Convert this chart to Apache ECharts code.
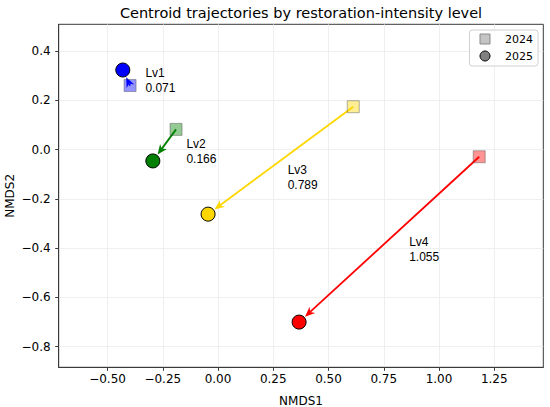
<!DOCTYPE html>
<html>
<head>
<meta charset="utf-8">
<title>Centroid trajectories</title>
<script src="https://cdn.jsdelivr.net/npm/echarts@6/dist/echarts.min.js"></script>
<style>
  html, body { margin: 0; padding: 0; background: #fff; }
  #chart { width: 550px; height: 407px; }
</style>
</head>
<body>
<div id="chart"></div>
<script>
// centroid positions
var levels = ['Lv1', 'Lv2', 'Lv3', 'Lv4'];
var x2024 = [-0.398, -0.190, 0.612, 1.182];
var y2024 = [0.260, 0.082, 0.174, -0.029];
var x2025 = [-0.431, -0.295, -0.045, 0.367];
var y2025 = [0.323, -0.046, -0.262, -0.700];
var distances = ['0.071', '0.166', '0.789', '1.055'];

var xTicks = [-0.5, -0.25, 0, 0.25, 0.5, 0.75, 1.0, 1.25];
var yTicks = [-0.8, -0.6, -0.4, -0.2, 0, 0.2, 0.4];

// styling
var levelColors = ['#0000ff', '#008000', '#ffd700', '#ff0000'];
var labelOffsets = [[19, 3], [22, 6], [7, 17], [20, 10]]; // px from arrow midpoint
var tickFont = 'DejaVu Sans';
var noteFont = 'Liberation Sans';

function fmt(digits) {
  return function (v) { return v.toFixed(digits).replace('-', '\u2212'); };
}

var arrows = levels.map(function (_, i) {
  return [x2024[i], y2024[i], x2025[i], y2025[i]];
});
var mids = levels.map(function (_, i) {
  return [(x2024[i] + x2025[i]) / 2, (y2024[i] + y2025[i]) / 2];
});

var chart = echarts.init(document.getElementById('chart'), null, { renderer: 'svg' });

chart.setOption({
  animation: false,
  backgroundColor: '#fff',
  graphic: [{
    type: 'text',
    x: 301,
    y: 13,
    style: {
      text: 'Centroid trajectories by restoration-intensity level',
      font: '14.5px "' + tickFont + '"',
      fill: '#000',
      align: 'center',
      verticalAlign: 'middle'
    }
  }],
  legend: {
    orient: 'vertical',
    right: 12,
    top: 30,
    padding: [2.5, 5, 3.5, 10],
    itemWidth: 10,
    itemHeight: 10,
    itemGap: 4,
    backgroundColor: 'rgba(255,255,255,0.8)',
    borderColor: '#d0d0d0',
    borderWidth: 1,
    borderRadius: 3,
    textStyle: { fontFamily: tickFont, fontSize: 11, color: '#000', padding: [0, 0, 0, 10], lineHeight: 13 },
    data: [
      { name: '2024', icon: 'rect', itemStyle: { color: '#c4c4c4', borderColor: '#8a8a8a', borderWidth: 1, opacity: 1 } },
      { name: '2025', icon: 'circle', itemStyle: { color: '#808080', borderColor: '#000', borderWidth: 1, opacity: 1 } }
    ]
  },
  grid: {
    left: 58.7,
    right: 6.7,
    top: 24.3,
    bottom: 39.7,
    outerBoundsMode: 'none',
    containLabel: false,
    show: true,
    borderColor: '#3a3a3a',
    borderWidth: 1,
    backgroundColor: '#fff'
  },
  xAxis: {
    type: 'value',
    min: -0.721,
    max: 1.472,
    name: 'NMDS1',
    nameLocation: 'middle',
    nameGap: 28,
    nameMoveOverlap: false,
    nameTextStyle: { fontFamily: tickFont, fontSize: 12, color: '#000' },
    axisLine: { show: true, onZero: false, lineStyle: { color: '#3a3a3a', width: 1 } },
    axisTick: { show: true, length: 3.5, customValues: xTicks, lineStyle: { color: '#3a3a3a' } },
    axisLabel: { customValues: xTicks, formatter: fmt(2), fontFamily: tickFont, fontSize: 12, color: '#000', margin: 6 },
    splitLine: { show: true, lineStyle: { color: '#ebebeb', width: 0.8 } }
  },
  yAxis: {
    type: 'value',
    min: -0.8835,
    max: 0.5085,
    name: 'NMDS2',
    nameLocation: 'middle',
    nameGap: 43,
    nameMoveOverlap: false,
    nameTextStyle: { fontFamily: tickFont, fontSize: 12, color: '#000' },
    axisLine: { show: true, onZero: false, lineStyle: { color: '#3a3a3a', width: 1 } },
    axisTick: { show: true, length: 3.5, customValues: yTicks, lineStyle: { color: '#3a3a3a' } },
    axisLabel: { customValues: yTicks, formatter: fmt(1), fontFamily: tickFont, fontSize: 12, color: '#000', margin: 8 },
    splitLine: { show: true, lineStyle: { color: '#ebebeb', width: 0.8 } }
  },
  series: [
    {
      name: 'arrows',
      type: 'custom',
      z: 2,
      silent: true,
      encode: { x: [0, 2], y: [1, 3] },
      data: arrows,
      renderItem: function (params, api) {
        var p0 = api.coord([api.value(0), api.value(1)]);
        var p1 = api.coord([api.value(2), api.value(3)]);
        var dx = p1[0] - p0[0], dy = p1[1] - p0[1];
        var len = Math.sqrt(dx * dx + dy * dy);
        var ux = dx / len, uy = dy / len;
        var tip = [p1[0] - ux * 8, p1[1] - uy * 8];
        var headLen = 10, half = 4.2;
        var base = [tip[0] - ux * headLen, tip[1] - uy * headLen];
        var notch = [base[0] + ux * 3, base[1] + uy * 3];
        var color = levelColors[params.dataIndex];
        return {
          type: 'group',
          children: [
            {
              type: 'line',
              shape: { x1: p0[0], y1: p0[1], x2: notch[0], y2: notch[1] },
              style: { stroke: color, lineWidth: 1.8 }
            },
            {
              type: 'polygon',
              shape: {
                points: [
                  tip,
                  [base[0] - uy * half, base[1] + ux * half],
                  notch,
                  [base[0] + uy * half, base[1] - ux * half]
                ]
              },
              style: { fill: color }
            }
          ]
        };
      }
    },
    {
      name: '2024',
      type: 'scatter',
      z: 3,
      symbol: 'rect',
      symbolSize: 12,
      itemStyle: { color: '#808080' },
      data: levels.map(function (_, i) {
        return {
          value: [x2024[i], y2024[i]],
          itemStyle: { color: levelColors[i], opacity: 0.42, borderColor: '#444', borderWidth: 1 }
        };
      })
    },
    {
      name: '2025',
      type: 'scatter',
      z: 4,
      symbol: 'circle',
      symbolSize: 14,
      itemStyle: { color: '#808080' },
      data: levels.map(function (_, i) {
        return {
          value: [x2025[i], y2025[i]],
          itemStyle: { color: levelColors[i], opacity: 1, borderColor: '#000', borderWidth: 1 }
        };
      })
    },
    {
      name: 'labels',
      type: 'custom',
      z: 5,
      silent: true,
      encode: { x: 0, y: 1 },
      data: mids,
      renderItem: function (params, api) {
        var p = api.coord([api.value(0), api.value(1)]);
        var off = labelOffsets[params.dataIndex];
        return {
          type: 'text',
          x: p[0] + off[0],
          y: p[1] + off[1],
          style: {
            text: levels[params.dataIndex] + '\n' + distances[params.dataIndex],
            font: '12px "' + noteFont + '"',
            fill: '#000',
            align: 'left',
            verticalAlign: 'middle',
            lineHeight: 15
          }
        };
      }
    }
  ]
});
</script>
</body>
</html>
